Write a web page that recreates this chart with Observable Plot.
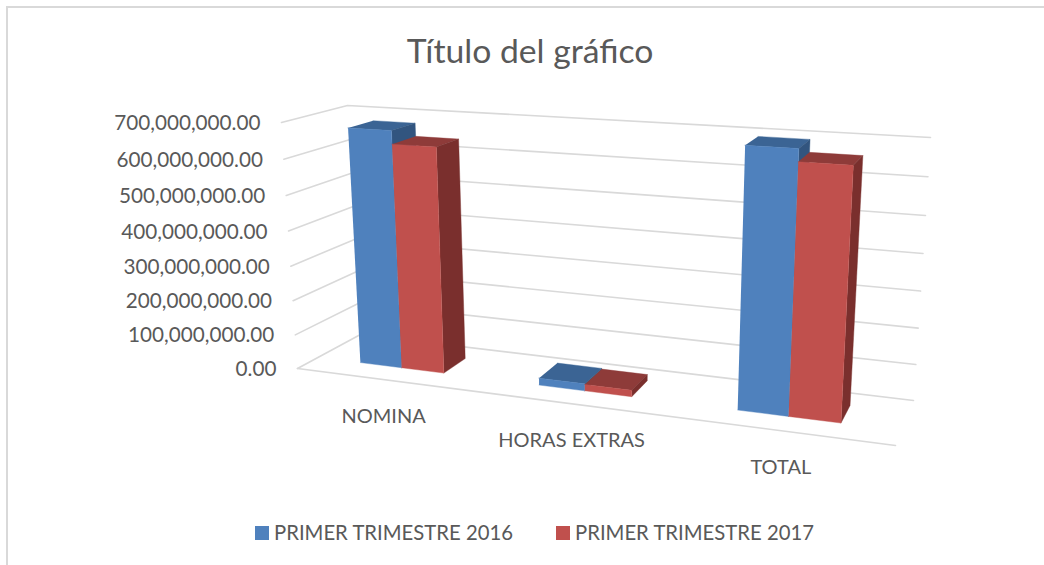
<!DOCTYPE html>
<html><head><meta charset="utf-8">
<script src="https://cdn.jsdelivr.net/npm/d3@7"></script>
<script src="https://cdn.jsdelivr.net/npm/@observablehq/plot@0.6"></script>
<style>
html,body{margin:0;padding:0;background:#fff;overflow:hidden}
#frame{position:absolute;left:6px;top:6px;right:0;bottom:0;border-left:2px solid #d9d9d9;border-top:2px solid #d9d9d9}
#page{position:absolute;left:0;top:0;width:1044px;height:565px;font-family:Lato,sans-serif;color:#595959}
#title{height:90px;box-sizing:border-box;padding-top:28px;padding-left:16px;text-align:center;font-size:33.7px;line-height:44px}
#chart svg{display:block}
#legend{position:relative;height:55px;font-size:20.3px}
#legend span{position:absolute;top:10px;line-height:24px;white-space:nowrap}
#legend i{position:absolute;top:16px;width:14px;height:14px}
</style></head><body>
<div id="frame"></div>
<div id="page">
<div id="title">Título del gráfico</div>
<div id="chart"></div>
<div id="legend"></div>
</div>
<script>
const categories = ["NOMINA", "HORAS EXTRAS", "TOTAL"];
const seriesNames = ["PRIMER TRIMESTRE 2016", "PRIMER TRIMESTRE 2017"];
const values2016 = [677000000, 20000000, 695000000];
const values2017 = [640000000, 18000000, 662000000];
const tickValues = [0, 100000000, 200000000, 300000000, 400000000, 500000000, 600000000, 700000000];
const frontColors = ["#4f81bd", "#c0504d"];
const topColors = ["#3b6494", "#8e3b39"];
const sideColors = ["#32557f", "#7a2f2d"];

// Perspective box of the 3-D chart: corners of the value box on the page
const corner = {
  flb: [297, 368], frb: [895, 445], blb: [360, 334], brb: [913, 400],
  flt: [281, 122], frt: [911, 161], blt: [347, 105], brt: [930, 137]
};
const warp = (t, a) => a * t / (1 + (a - 1) * t);
const maxValue = 700000000;
function P(u, v, value) {
  const U = warp(u, 0.852), W = warp(value / maxValue, 0.95), V = v;
  const mix = (a, b, t) => [a[0] + (b[0] - a[0]) * t, a[1] + (b[1] - a[1]) * t];
  const bottom = mix(mix(corner.flb, corner.frb, U), mix(corner.blb, corner.brb, U), V);
  const top = mix(mix(corner.flt, corner.frt, U), mix(corner.blt, corner.brt, U), V);
  const p = mix(bottom, top, W);
  return {x: p[0], y: p[1]};
}
const barW = 0.08, v0 = 0.33, v1 = 0.73, barShift = -0.003;

const marks = [];
const grid = {stroke: "#d9d9d9", strokeWidth: 1.6, x: "x", y: "y", curve: "linear"};
// floor edges and walls
for (const t of tickValues) {
  marks.push(Plot.line([P(0, 0, t), P(0, 1, t), P(1, 1, t)], grid));
}
marks.push(Plot.line([P(0, 0, 0), P(1, 0, 0)], grid));

const face = (pts, color) => Plot.line(pts, {x: "x", y: "y", fill: color, stroke: color, strokeWidth: 0.4, curve: "linear"});
categories.forEach((c, i) => {
  [values2016[i], values2017[i]].forEach((val, s) => {
    const a = (i + 0.5) / 3 - barW + s * barW + barShift, b = a + barW;
    marks.push(face([P(a, v0, val), P(b, v0, val), P(b, v1, val), P(a, v1, val)], topColors[s]));
    marks.push(face([P(b, v0, 0), P(b, v1, 0), P(b, v1, val), P(b, v0, val)], sideColors[s]));
    marks.push(face([P(a, v0, 0), P(b, v0, 0), P(b, v0, val), P(a, v0, val)], frontColors[s]));
  });
});

const font = {fontFamily: "Lato, sans-serif", fill: "#595959", fontSize: 20.7};
marks.push(Plot.text(tickValues.map(t => ({...P(0, 0, t), t})), {
  x: "x", y: "y", text: d => d3.format(",.2f")(d.t), textAnchor: "end", dx: -21, dy: 1, ...font
}));
marks.push(Plot.text(categories.map((c, i) => ({...P((i + 0.5) / 3, 0, 0), c})), {
  x: "x", y: "y", text: "c", dx: -1, dy: 37, ...font, fontSize: 20
}));

const chart = Plot.plot({
  width: 1044, height: 420,
  margin: 0,
  style: {background: "transparent", overflow: "visible"},
  x: {type: "linear", domain: [0, 1044], range: [0, 1044], axis: null},
  y: {type: "linear", domain: [90, 510], range: [0, 420], axis: null},
  marks
});
document.getElementById("chart").append(chart);

const legend = document.getElementById("legend");
[[255, 274], [556, 575]].forEach(([sx, tx], i) => {
  const sw = document.createElement("i");
  sw.style.left = sx + "px"; sw.style.background = frontColors[i];
  const tx_ = document.createElement("span");
  tx_.style.left = tx + "px"; tx_.textContent = seriesNames[i];
  legend.append(sw, tx_);
});
</script>
</body></html>
